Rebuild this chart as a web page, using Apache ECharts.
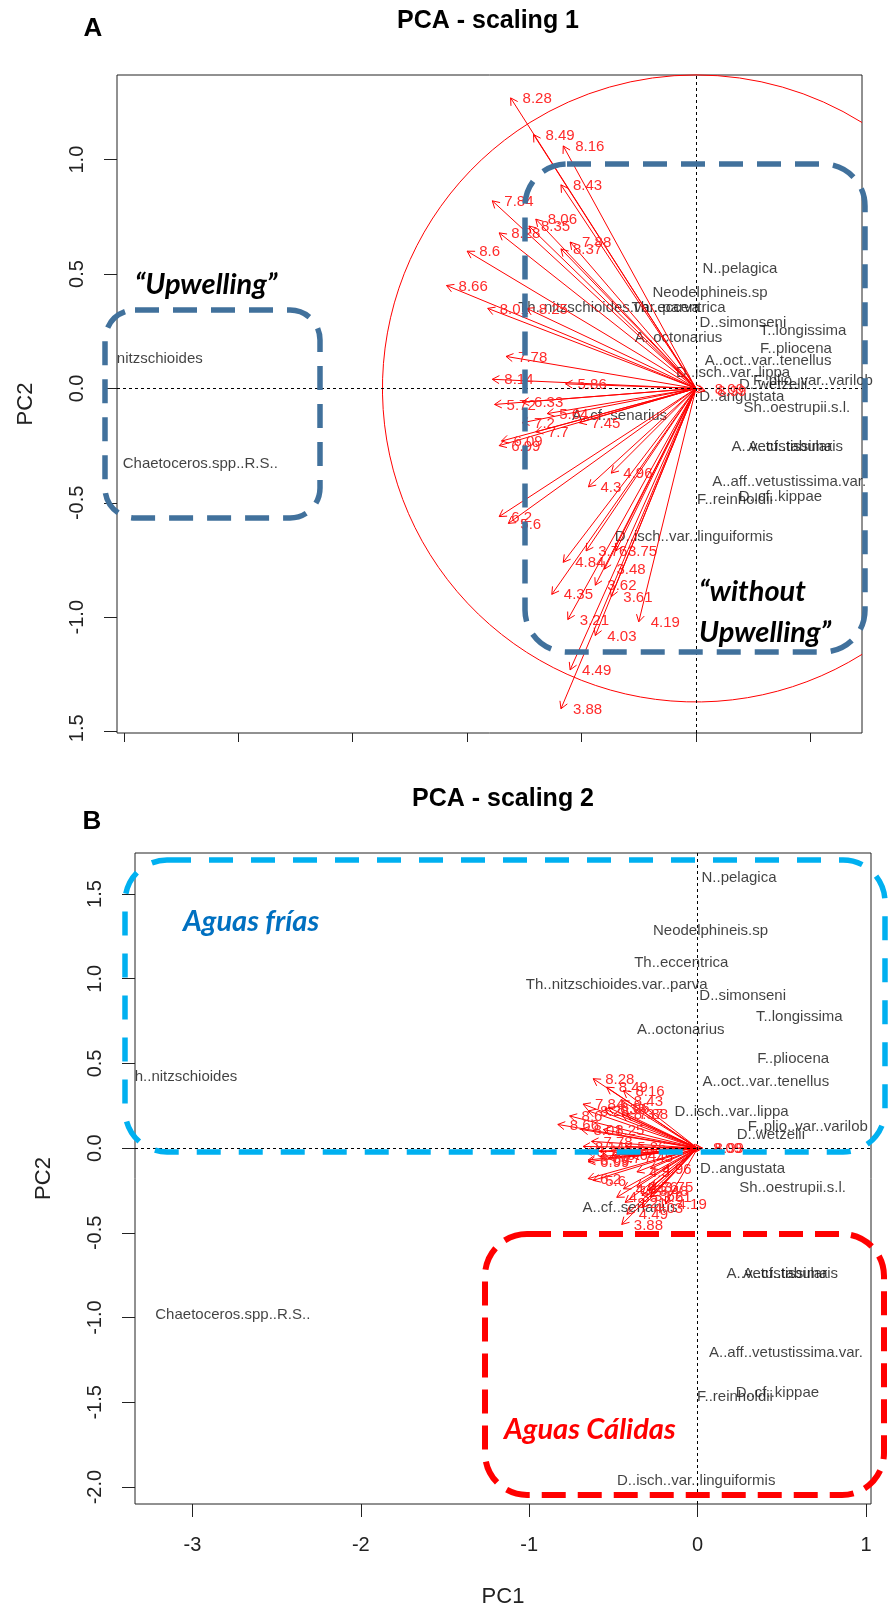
<!DOCTYPE html>
<html>
<head>
<meta charset="utf-8">
<script src="https://cdn.jsdelivr.net/npm/echarts@6.0.0/dist/echarts.min.js"></script>
<style>
  html, body { margin: 0; padding: 0; background: #fff; }
  #chart { width: 888px; height: 1611px; }
</style>
</head>
<body>
<div id="chart"></div>
<script>
// sample labels on the arrows (same order in both panels)
const sampleLabels = ['8.28','8.49','8.16','8.43','7.84','8.06','8.28','8.35','7.88','8.37','8.6','8.66','8.01','8.25','7.78','8.14','5.86','5.72','6.33','5.64','7.45','7.2','7.7','6.99','6.09','4.96','4.3','6.2','5.6','3.76','3.75','4.84','3.48','4.35','3.62','3.61','3.21','4.19','4.03','4.49','3.88','8.09','8.99'];

// scaling 1 - arrow tips
const arrowsTopX = [-0.81,-0.71,-0.58,-0.59,-0.89,-0.70,-0.86,-0.73,-0.55,-0.59,-1.00,-1.09,-0.91,-0.74,-0.83,-0.89,-0.57,-0.88,-0.76,-0.65,-0.51,-0.76,-0.70,-0.86,-0.85,-0.37,-0.47,-0.86,-0.82,-0.48,-0.35,-0.58,-0.40,-0.63,-0.44,-0.37,-0.56,-0.25,-0.44,-0.55,-0.59,0.03,0.04];
const arrowsTopY = [1.27,1.11,1.06,0.89,0.82,0.74,0.68,0.71,0.64,0.61,0.60,0.45,0.35,0.35,0.14,0.04,0.02,-0.07,-0.06,-0.11,-0.15,-0.15,-0.19,-0.25,-0.23,-0.37,-0.43,-0.56,-0.59,-0.71,-0.71,-0.76,-0.79,-0.90,-0.86,-0.91,-1.01,-1.02,-1.08,-1.23,-1.40,0.00,-0.01];

// scaling 2 - arrow tips
const arrowsBotX = [-0.62,-0.54,-0.44,-0.45,-0.68,-0.53,-0.65,-0.55,-0.42,-0.45,-0.76,-0.83,-0.69,-0.56,-0.63,-0.68,-0.43,-0.67,-0.58,-0.49,-0.39,-0.58,-0.53,-0.65,-0.65,-0.28,-0.36,-0.65,-0.62,-0.36,-0.27,-0.44,-0.30,-0.48,-0.33,-0.28,-0.43,-0.19,-0.33,-0.42,-0.45,0.02,0.03];
const arrowsBotY = [0.41,0.36,0.34,0.28,0.26,0.24,0.22,0.23,0.20,0.20,0.19,0.14,0.11,0.11,0.04,0.01,0.01,-0.02,-0.02,-0.04,-0.05,-0.05,-0.06,-0.08,-0.07,-0.12,-0.14,-0.18,-0.19,-0.23,-0.23,-0.24,-0.25,-0.29,-0.28,-0.29,-0.32,-0.33,-0.35,-0.39,-0.45,0.00,0.00];

// species scores, scaling 1
const speciesTopNames = ['N..pelagica','Neodelphineis.sp','Th..eccentrica','Th..nitzschioides.var..parva','D..simonseni','A..octonarius','T..longissima','F..pliocena','A..oct..var..tenellus','D..isch..var..lippa','F..plio..var..varilob','D..wetzelii','D..angustata','Sh..oestrupii.s.l.','A..cf..senarius','A..vetustissima','A..cf..tabularis','A..aff..vetustissima.var.','F..reinholdii','D..cf..kippae','D..isch..var..linguiformis','nitzschioides','Chaetoceros.spp..R.S..'];
const speciesTopX = [0.192,0.061,-0.076,-0.380,0.205,-0.076,0.468,0.437,0.315,0.162,0.511,0.337,0.200,0.441,-0.334,0.376,0.435,0.407,0.170,0.369,-0.009,-2.343,-2.166];
const speciesTopY = [0.521,0.416,0.353,0.351,0.288,0.219,0.253,0.171,0.122,0.066,0.034,0.015,-0.038,-0.087,-0.120,-0.254,-0.254,-0.407,-0.487,-0.476,-0.647,0.130,-0.328];

// species scores, scaling 2
const speciesBotNames = ['N..pelagica','Neodelphineis.sp','Th..eccentrica','Th..nitzschioides.var..parva','D..simonseni','T..longissima','A..octonarius','F..pliocena','A..oct..var..tenellus','D..isch..var..lippa','F..plio..var..varilob','D..wetzelii','h..nitzschioides','D..angustata','Sh..oestrupii.s.l.','A..cf..senarius','A..vetustissima','A..cf..tabularis','A..aff..vetustissima.var.','F..reinholdii','D..cf..kippae','D..isch..var..linguiformis','Chaetoceros.spp..R.S..'];
const speciesBotX = [0.246,0.077,-0.097,-0.480,0.268,0.604,-0.100,0.568,0.405,0.202,0.655,0.435,-3.038,0.267,0.564,-0.401,0.472,0.552,0.525,0.222,0.474,-0.008,-2.760];
const speciesBotY = [1.594,1.285,1.092,0.964,0.899,0.777,0.698,0.525,0.393,0.216,0.128,0.079,0.419,-0.120,-0.236,-0.354,-0.743,-0.743,-1.210,-1.466,-1.443,-1.964,-0.984];

// equilibrium circle (scaling 1)
const circleRadius = 1.37;

// ticks
const topXTicks = [-2.5,-2,-1.5,-1,-0.5,0,0.5];
const topYTicks = [-1.5,-1,-0.5,0,0.5,1];
const botXTicks = [-3,-2,-1,0,1];
const botYTicks = [-2,-1.5,-1,-0.5,0,0.5,1,1.5];

const FONT = 'Liberation Sans, Arial, sans-serif';
const RED = '#ff0000';
const BLUE = '#41719c';

const chart = echarts.init(document.getElementById('chart'), null, { renderer: 'canvas' });

function arrowSeries(idx, xs, ys) {
  return {
    type: 'custom',
    xAxisIndex: idx, yAxisIndex: idx,
    silent: true, z: 3,
    data: xs.map((x, i) => [x, ys[i]]),
    renderItem: function (params, api) {
      const o = api.coord([0, 0]);
      const t = api.coord([api.value(0), api.value(1)]);
      const a = Math.atan2(t[1] - o[1], t[0] - o[0]);
      const L = 8, w = Math.PI / 6;
      const h1 = [t[0] - L * Math.cos(a - w), t[1] - L * Math.sin(a - w)];
      const h2 = [t[0] - L * Math.cos(a + w), t[1] - L * Math.sin(a + w)];
      const ls = { stroke: RED, lineWidth: 1, fill: 'none' };
      return {
        type: 'group',
        children: [
          { type: 'line', shape: { x1: o[0], y1: o[1], x2: t[0], y2: t[1] }, style: ls },
          { type: 'polyline', shape: { points: [h1, t, h2] }, style: ls },
          { type: 'text', x: t[0] + 12, y: t[1] + 1,
            style: { text: sampleLabels[params.dataIndex], fill: '#ff2b2b', fontSize: 15,
                     fontFamily: FONT, align: 'left', verticalAlign: 'middle' } }
        ]
      };
    }
  };
}

function speciesSeries(idx, names, xs, ys) {
  return {
    type: 'scatter',
    xAxisIndex: idx, yAxisIndex: idx,
    silent: true, z: 2,
    symbolSize: 1,
    itemStyle: { color: 'rgba(0,0,0,0)' },
    data: names.map((n, i) => ({ name: n, value: [xs[i], ys[i]] })),
    label: { show: true, position: 'inside', formatter: '{b}', color: '#111',
             fontSize: 15, fontFamily: FONT },
    markLine: {
      silent: true, symbol: ['none', 'none'],
      label: { show: false },
      lineStyle: { color: '#000', width: 1, type: [3, 3] },
      data: [{ xAxis: 0 }, { yAxis: 0 }]
    }
  };
}

function yAxisOpt(idx, min, max, ticks) {
  return {
    type: 'value', gridIndex: idx, min: min, max: max,
    name: 'PC2', nameLocation: 'middle', nameRotate: 90, nameGap: 80,
    nameTextStyle: { fontSize: 22, color: '#222', fontFamily: FONT },
    axisLine: { show: false, onZero: false },
    splitLine: { show: false },
    axisTick: { show: true, length: 13, customValues: ticks, lineStyle: { color: '#222' } },
    axisLabel: { show: true, customValues: ticks, rotate: 90, margin: 30, fontSize: 20,
                 color: '#222', fontFamily: FONT, formatter: v => v.toFixed(1) }
  };
}

const option = {
  animation: false,
  textStyle: { fontFamily: FONT },
  grid: [
    { left: 117, top: 75, width: 745, height: 658, show: true, borderColor: '#222', borderWidth: 1, backgroundColor: 'transparent' },
    { left: 135, top: 853, width: 736, height: 651, show: true, borderColor: '#222', borderWidth: 1, backgroundColor: 'transparent' }
  ],
  xAxis: [
    { type: 'value', gridIndex: 0, min: -2.53, max: 0.7255, position: 'bottom',
      axisLine: { show: false, onZero: false }, splitLine: { show: false },
      axisTick: { show: true, length: 9, customValues: topXTicks, lineStyle: { color: '#222' } },
      axisLabel: { show: false } },
    { type: 'value', gridIndex: 1, min: -3.341, max: 1.03, position: 'bottom',
      name: 'PC1', nameLocation: 'middle', nameGap: 82,
      nameTextStyle: { fontSize: 22, color: '#222', fontFamily: FONT },
      axisLine: { show: false, onZero: false }, splitLine: { show: false },
      axisTick: { show: true, length: 13, customValues: botXTicks, lineStyle: { color: '#222' } },
      axisLabel: { show: true, customValues: botXTicks, margin: 31, fontSize: 20, color: '#222',
                   fontFamily: FONT, formatter: v => String(v) } }
  ],
  yAxis: [
    yAxisOpt(0, -1.506, 1.370, topYTicks),
    yAxisOpt(1, -2.10, 1.742, botYTicks)
  ],
  series: [
    speciesSeries(0, speciesTopNames, speciesTopX, speciesTopY),
    arrowSeries(0, arrowsTopX, arrowsTopY),
    {
      type: 'custom', xAxisIndex: 0, yAxisIndex: 0, silent: true, z: 3,
      data: [[0, 0]],
      renderItem: function (params, api) {
        const c = api.coord([0, 0]);
        const r = api.size([circleRadius, 0])[0];
        const right = params.coordSys.x + params.coordSys.width;
        const a = (right - c[0]) < r ? Math.acos((right - c[0]) / r) : 0;
        return { type: 'arc',
                 shape: { cx: c[0], cy: c[1], r: r, startAngle: a, endAngle: 2 * Math.PI - a, clockwise: true },
                 style: { stroke: RED, fill: 'none', lineWidth: 1 } };
      }
    },
    speciesSeries(1, speciesBotNames, speciesBotX, speciesBotY),
    arrowSeries(1, arrowsBotX, arrowsBotY)
  ],
  graphic: [
    // crop of the upper figure
    { type: 'rect', z: 100, shape: { x: 0, y: 742, width: 888, height: 30 }, style: { fill: '#fff' } },
    // titles
    { type: 'text', z: 101, x: 488, y: 21, style: { text: 'PCA - scaling 1', fontSize: 25, fontWeight: 'bold', fontFamily: FONT, fill: '#000', align: 'center', verticalAlign: 'middle' } },
    { type: 'text', z: 101, x: 93, y: 29, style: { text: 'A', fontSize: 26, fontWeight: 'bold', fontFamily: FONT, fill: '#000', align: 'center', verticalAlign: 'middle' } },
    { type: 'text', z: 101, x: 503, y: 799, style: { text: 'PCA - scaling 2', fontSize: 25, fontWeight: 'bold', fontFamily: FONT, fill: '#000', align: 'center', verticalAlign: 'middle' } },
    { type: 'text', z: 101, x: 92, y: 822, style: { text: 'B', fontSize: 26, fontWeight: 'bold', fontFamily: FONT, fill: '#000', align: 'center', verticalAlign: 'middle' } },
    // upwelling boxes
    { type: 'rect', z: 100, shape: { x: 105, y: 310, width: 215, height: 208, r: 30 },
      style: { fill: 'none', stroke: BLUE, lineWidth: 5.5, lineDash: [24, 14] } },
    { type: 'rect', z: 100, shape: { x: 525, y: 164, width: 340, height: 488, r: 42 },
      style: { fill: 'none', stroke: BLUE, lineWidth: 5.5, lineDash: [24, 14] } },
    { type: 'text', z: 101, x: 206, y: 285, style: { text: '\u201cUpwelling\u201d', fontSize: 29, fontWeight: 'bold', fontStyle: 'italic', fontFamily: 'Lato, Open Sans, sans-serif', fill: '#000', align: 'center', verticalAlign: 'middle' } },
    { type: 'text', z: 101, x: 699, y: 592, style: { text: '\u201cwithout', fontSize: 29, fontWeight: 'bold', fontStyle: 'italic', fontFamily: 'Lato, Open Sans, sans-serif', fill: '#000', align: 'left', verticalAlign: 'middle' } },
    { type: 'text', z: 101, x: 699, y: 633, style: { text: 'Upwelling\u201d', fontSize: 29, fontWeight: 'bold', fontStyle: 'italic', fontFamily: 'Lato, Open Sans, sans-serif', fill: '#000', align: 'left', verticalAlign: 'middle' } },
    // water mass boxes
    { type: 'rect', z: 100, shape: { x: 125, y: 860, width: 760, height: 292, r: 42 },
      style: { fill: 'none', stroke: '#00b0f0', lineWidth: 5.5, lineDash: [24, 18] } },
    { type: 'rect', z: 100, shape: { x: 485, y: 1234, width: 399, height: 261, r: 42 },
      style: { fill: 'none', stroke: '#ff0000', lineWidth: 6, lineDash: [24, 12] } },
    { type: 'text', z: 101, x: 183, y: 922, style: { text: 'Aguas fr\u00edas', fontSize: 29, fontWeight: 'bold', fontStyle: 'italic', fontFamily: 'Lato, Open Sans, sans-serif', fill: '#0070c0', align: 'left', verticalAlign: 'middle' } },
    { type: 'text', z: 101, x: 504, y: 1430, style: { text: 'Aguas C\u00e1lidas', fontSize: 29, fontWeight: 'bold', fontStyle: 'italic', fontFamily: 'Lato, Open Sans, sans-serif', fill: '#ff0000', align: 'left', verticalAlign: 'middle' } }
  ]
};

chart.setOption(option);
</script>
</body>
</html>
